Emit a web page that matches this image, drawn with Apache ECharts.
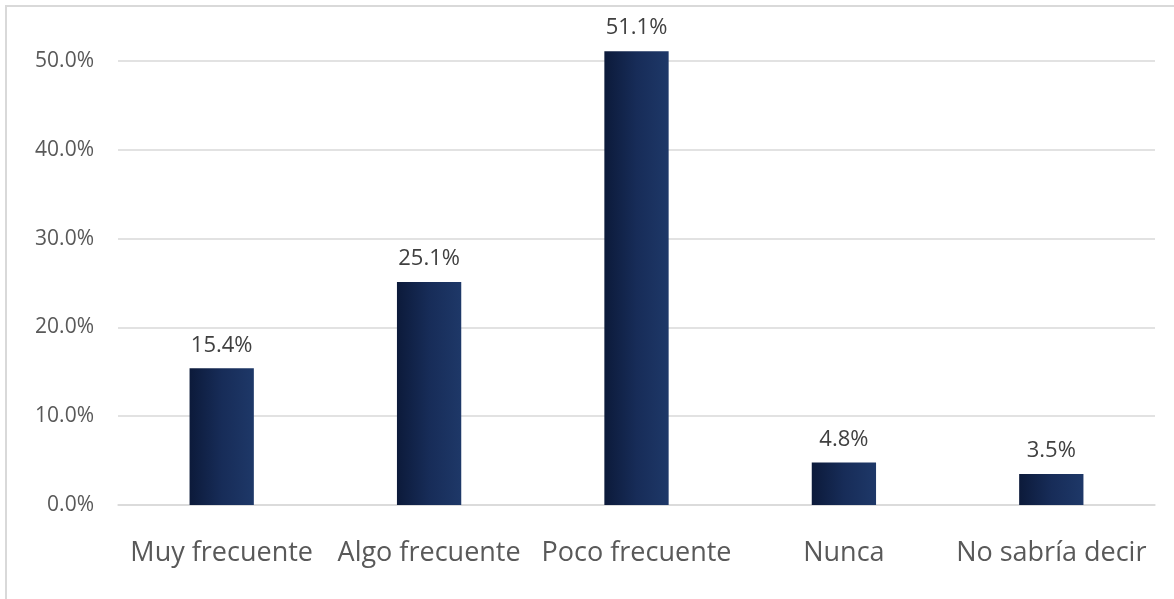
<!DOCTYPE html>
<html>
<head>
<meta charset="utf-8">
<script src="https://cdn.jsdelivr.net/npm/echarts@6/dist/echarts.min.js"></script>
<style>html,body{margin:0;padding:0;background:#fff;}#c{width:1174px;height:599px;}</style>
</head>
<body>
<div id="c"></div>
<script>
const categories = ["Muy frecuente", "Algo frecuente", "Poco frecuente", "Nunca", "No sabría decir"];
const values = [15.4, 25.1, 51.1, 4.8, 3.5];
const yTicks = [0, 10, 20, 30, 40, 50];

const chart = echarts.init(document.getElementById('c'));
const FONT = '"Open Sans", "Noto Sans", sans-serif';
chart.setOption({
  animation: false,
  backgroundColor: '#ffffff',
  graphic: [{
    type: 'rect', silent: true,
    shape: { x: 6, y: 6, width: 1300, height: 800 },
    style: { fill: 'none', stroke: '#d9d9d9', lineWidth: 2 }
  }],
  grid: { left: 118, right: 19, top: 61, bottom: 94, containLabel: false },
  xAxis: {
    type: 'category',
    data: categories,
    axisLine: { show: true, lineStyle: { color: '#d9d9d9', width: 1.5 } },
    axisTick: { show: false },
    axisLabel: { color: '#595959', fontSize: 27, fontFamily: FONT, margin: 35,
      interval: 0, hideOverlap: false }
  },
  yAxis: {
    type: 'value',
    min: yTicks[0], max: yTicks[yTicks.length - 1], interval: 10,
    axisLine: { show: false },
    axisTick: { show: false },
    splitLine: { lineStyle: { color: '#d9d9d9', width: 1.5 } },
    axisLabel: { color: '#595959', fontSize: 21, fontFamily: FONT, margin: 24,
      formatter: v => v.toFixed(1) + '%' }
  },
  series: [{
    type: 'bar',
    data: values,
    barWidth: '31%',
    clip: false,
    itemStyle: {
      color: new echarts.graphic.LinearGradient(0, 0, 1, 0, [
        { offset: 0, color: '#0c1a3a' },
        { offset: 0.5, color: '#172c58' },
        { offset: 1, color: '#1e3868' }
      ])
    },
    label: {
      show: true, position: 'top', distance: 12,
      color: '#404040', fontSize: 22, fontFamily: FONT,
      formatter: p => p.value.toFixed(1) + '%'
    }
  }]
});
</script>
</body>
</html>
